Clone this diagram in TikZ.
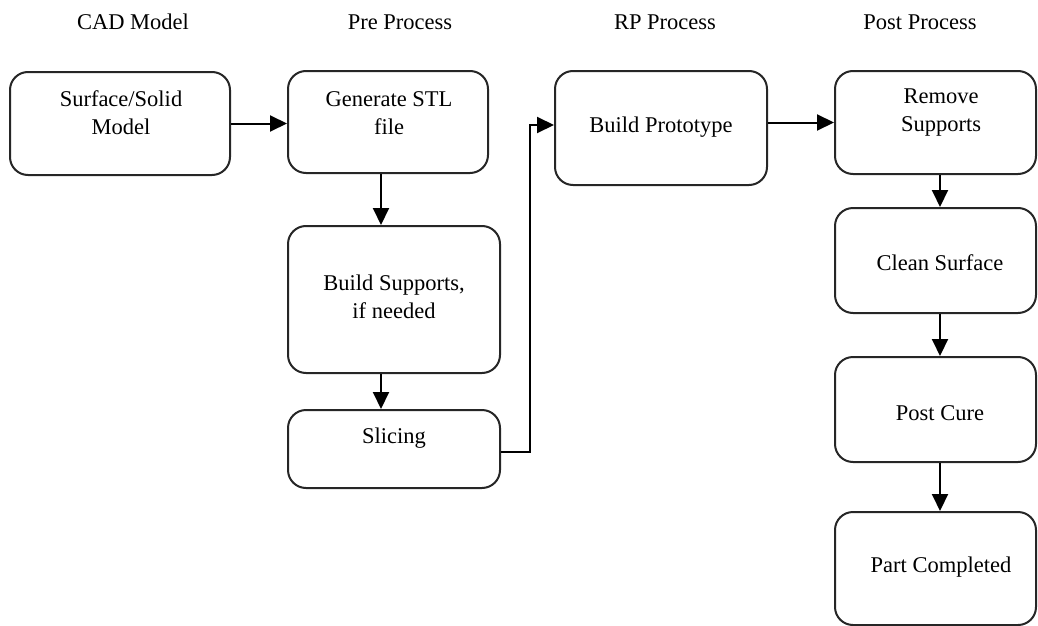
\documentclass[tikz,border=0pt]{standalone}
\usepackage{fontspec}
\setmainfont{Liberation Serif}
\usetikzlibrary{arrows.meta}
\begin{document}
\begin{tikzpicture}[x=1pt,y=-1pt,
  box/.style={draw=black!85,line width=2pt,rounded corners=18pt,fill=white,minimum width=#1,inner sep=0pt},
  txt/.style={font=\fontsize{22.5}{28}\selectfont,align=center,inner sep=0pt},
  hdr/.style={font=\fontsize{22.5}{28}\selectfont,inner sep=0pt},
  arr/.style={line width=2pt,-{Triangle[length=17pt,width=16pt]}}]
\useasboundingbox (0,0) rectangle (1038,626);
% headers
\node[hdr] (h1) at (133,22) {CAD Model};
\node[hdr] (h2) at (400,22) {Pre Process};
\node[hdr] (h3) at (665,22) {RP Process};
\node[hdr] (h4) at (920,22) {Post Process};
% boxes
\node[box=220pt,minimum height=103pt] (b1) at (120,123.5) {};
\node[box=200pt,minimum height=102pt] (b2) at (388,122) {};
\node[box=212pt,minimum height=147pt] (b3) at (394,299.5) {};
\node[box=212pt,minimum height=78pt] (b4) at (394,449) {};
\node[box=212pt,minimum height=114pt] (b5) at (661,128) {};
\node[box=201pt,minimum height=103pt] (b6) at (935.5,122.5) {};
\node[box=201pt,minimum height=105pt] (b7) at (935.5,260.5) {};
\node[box=201pt,minimum height=105pt] (b8) at (935.5,409.5) {};
\node[box=201pt,minimum height=113pt] (b9) at (935.5,568.5) {};
% texts
\node[txt] (t1) at (121,113) {Surface/Solid\\Model};
\node[txt] (t2) at (389,113) {Generate STL\\file};
\node[txt] (t3) at (394,297) {Build Supports,\\if needed};
\node[txt] (t4) at (394,438) {Slicing};
\node[txt] (t5) at (661,127) {Build Prototype};
\node[txt] (t6) at (941,113) {Remove\\Supports};
\node[txt] (t7) at (940,263) {Clean Surface};
\node[txt] (t8) at (940,413) {Post Cure};
\node[txt] (t9) at (941,567) {Part Completed};
% connectors
\coordinate (cx) at (381,0);
\coordinate (rx) at (530,0);
\coordinate (px) at (940,0);
\coordinate (ry) at (0,125);
\coordinate (sy) at (0,452);
\draw[arr] (b1.east) -- (b1.east -| b2.west);
\draw[arr] (cx |- b2.south) -- (cx |- b3.north);
\draw[arr] (cx |- b3.south) -- (cx |- b4.north);
\draw[arr] (b4.east |- sy) -| (rx |- ry) -- (b5.west |- ry);
\draw[arr] (b5.east |- b6.west) -- (b6.west);
\draw[arr] (px |- b6.south) -- (px |- b7.north);
\draw[arr] (px |- b7.south) -- (px |- b8.north);
\draw[arr] (px |- b8.south) -- (px |- b9.north);
\end{tikzpicture}
\end{document}
